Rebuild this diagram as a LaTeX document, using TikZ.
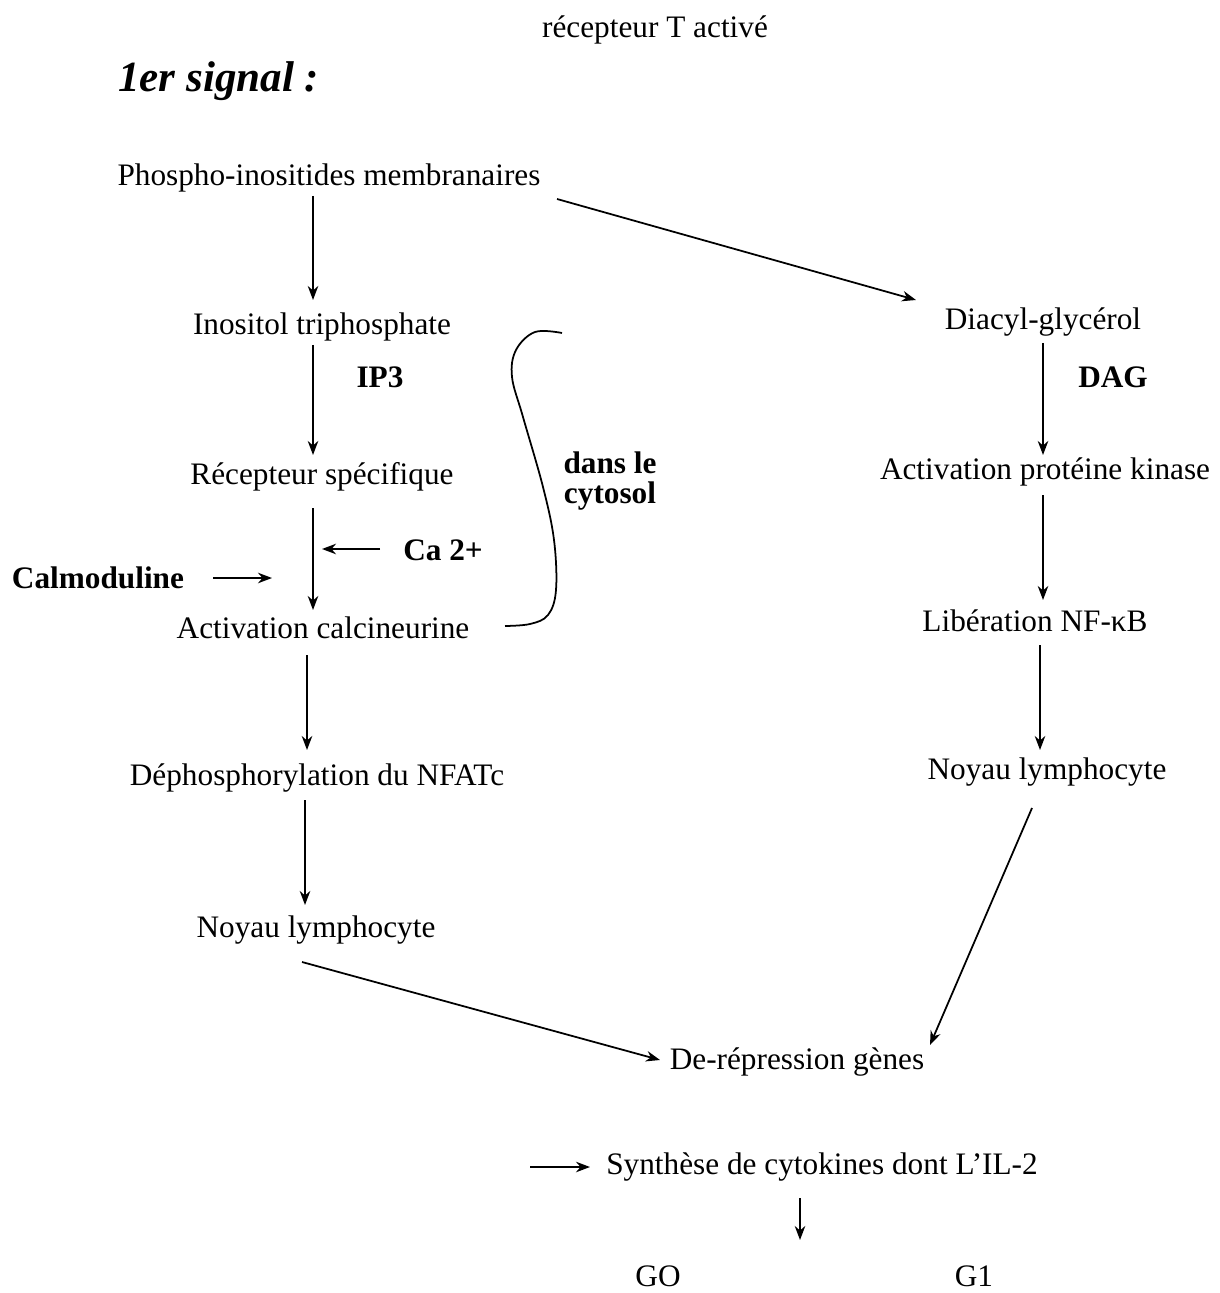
\documentclass[tikz,border=0pt]{standalone}
\usepackage{fontspec}
\setmainfont{Liberation Serif}
\usetikzlibrary{arrows.meta,calc}
\begin{document}
\begin{tikzpicture}[x=0.02cm,y=-0.02cm,
  lbl/.style={inner sep=0pt,font=\fontsize{17.8}{20}\selectfont},
  bld/.style={inner sep=0pt,font=\fontsize{17.8}{17.6}\selectfont\bfseries,align=center},
  arr/.style={line width=1pt,-{Stealth[length=8pt,width=6pt]}}]
\useasboundingbox (0,0) rectangle (1219,1293);

% titles
\node[lbl] (rta) at (655,30) {récepteur T activé};
\node[inner sep=0pt,font=\fontsize{24.5}{26}\selectfont\bfseries\itshape,anchor=west] (sig) at (118,81) {1er signal :};

% left branch
\node[lbl] (phospho) at (329,178) {Phospho-inositides membranaires};
\node[lbl] (inos) at (322,327) {Inositol triphosphate};
\node[bld] (ip3) at (380,377) {IP3};
\node[lbl] (rec) at (322,477) {Récepteur spécifique};
\node[bld] (ca) at (443,550) {Ca 2+};
\node[bld] (calm) at (98,578) {Calmoduline};
\node[lbl] (act) at (323,628) {Activation calcineurine};
\node[lbl] (deph) at (317,778) {Déphosphorylation du NFATc};
\node[lbl] (noyL) at (316,930) {Noyau lymphocyte};
\node[bld] (cyto) at (610,481) {dans le\\cytosol};

% right branch
\node[lbl] (diac) at (1043,322) {Diacyl-glycérol};
\node[bld] (dag) at (1113,377) {DAG};
\node[lbl] (apk) at (1045,472) {Activation protéine kinase};
\node[lbl] (lib) at (1035,621) {Libération NF-κB};
\node[lbl] (noyR) at (1047,772) {Noyau lymphocyte};

% common end
\node[lbl] (derep) at (797,1062) {De-répression gènes};
\node[lbl] (synth) at (822,1167) {Synthèse de cytokines dont L'IL-2};
\node[lbl] (go) at (658,1276) {GO};
\node[lbl] (gone) at (974,1276) {G1};

% connectors
\draw[arr] ($(phospho)+(-16,18)$) -- ($(inos)+(-9,-27)$);
\draw[arr] ($(phospho)+(228,21)$) -- ($(diac)+(-127,-22)$);
\draw[arr] ($(inos)+(-9,18)$) -- ($(rec)+(-9,-22)$);
\draw[arr] ($(rec)+(-9,31)$) -- ($(act)+(-10,-18)$);
\coordinate (caEnd) at ($(ca)+(-121,-1)$);
\draw[arr] ($(ca)+(-63,-1)$) -- (caEnd);
\coordinate (calmEnd) at ($(calm)+(174,0)$);
\draw[arr] ($(calm)+(115,0)$) -- (calmEnd);
\draw[arr] ($(act)+(-16,27)$) -- ($(deph)+(-10,-28)$);
\draw[arr] ($(deph)+(-12,22)$) -- ($(noyL)+(-11,-25)$);
\draw[arr] ($(noyL)+(-14,32)$) -- ($(derep)+(-137,-2)$);
\draw[arr] ($(diac)+(0,21)$) -- ($(apk)+(-2,-17)$);
\draw[arr] ($(apk)+(-2,23)$) -- ($(lib)+(8,-21)$);
\draw[arr] ($(lib)+(5,24)$) -- ($(noyR)+(-7,-22)$);
\draw[arr] ($(noyR)+(-15,36)$) -- ($(derep)+(133,-17)$);
\coordinate (synStart) at ($(synth)+(-292,0)$);
\draw[arr] (synStart) -- ($(synth)+(-232,0)$);
\coordinate (synDown) at ($(synth)+(-22,73)$);
\draw[arr] ($(synth)+(-22,31)$) -- (synDown);

% brace around the cytosol steps
\draw[line width=1pt] plot[smooth,tension=0.6] coordinates {(562,333) (535,332) (516,350) (512,377) (523,417) (543,487) (554,540) (556,590) (548,615) (530,624) (505,626)};
\end{tikzpicture}
\end{document}
